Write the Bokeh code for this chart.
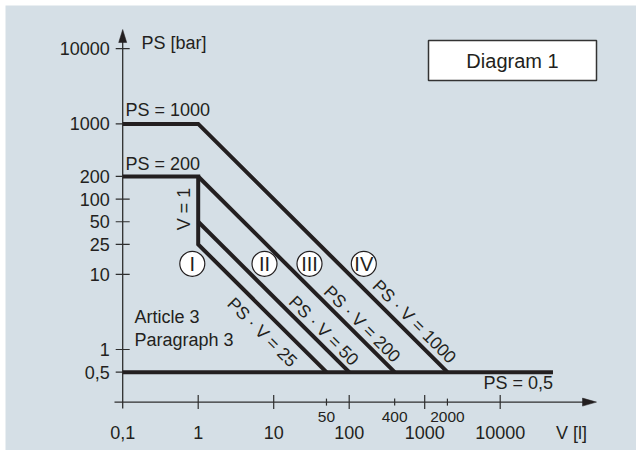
import math
from bokeh.plotting import figure
from bokeh.models import Range1d
from bokeh.core.properties import value
from bokeh.embed import file_html
from bokeh.resources import INLINE

# ---------------- data ----------------
v_label_values = [0.1, 1, 10, 100, 1000, 10000]
v_label_texts = ["0,1", "1", "10", "100", "1000", "10000"]
v_minor_values = [50, 400, 2000]
v_minor_texts = ["50", "400", "2000"]
ps_label_values = [0.5, 1, 10, 25, 50, 100, 200, 1000, 10000]
ps_label_texts = ["0,5", "1", "10", "25", "50", "100", "200", "1000", "10000"]
ps_plateaus = [1000, 200]
pv_products = [25, 50, 200, 1000]
pv_texts = ["PS · V = 25", "PS · V = 50", "PS · V = 200", "PS · V = 1000"]
v_origin = 0.1
v_corner = 1
ps_floor = 0.5
v_floor_end = 50000
categories = ["I", "II", "III", "IV"]

# ---------------- layout (reference pixel frame) ----------------
X0, KX = 197.7, 75.5     # x pixel of V=1, px per decade
Y0, KY = 349.0, 75.2     # y pixel of PS=1, px per decade
M = 5                    # white margin around the panel
W, H = 636, 450
BG = "#d5dfe6"
INK = "#231f20"
AX = "#2e2e2e"
FONT = value("Liberation Sans")


def dx(xr):
    return 10 ** ((xr - X0) / KX)


def dy(yr):
    return 10 ** ((Y0 - yr) / KY)


def px(v):
    return X0 + KX * math.log10(v)


p = figure(width=W, height=H, x_axis_type="log", y_axis_type="log",
           x_range=Range1d(dx(M), dx(W)),
           y_range=Range1d(dy(H), dy(M)),
           output_backend="svg", toolbar_location=None,
           min_border_left=M, min_border_top=M, min_border_right=0, min_border_bottom=0,
           x_axis_location=None, y_axis_location=None)
p.grid.visible = False
p.outline_line_color = None
p.background_fill_color = BG
p.border_fill_color = "white"

# ---------------- axes ----------------
ax_x = px(v_origin)          # y-axis position (pixels)
ax_y = 401.6                 # x-axis position (pixels)
ps_axis = dy(ax_y)
p.segment(x0=[v_origin], y0=[dy(408)], x1=[v_origin], y1=[dy(41)],
          line_color=AX, line_width=1.3)
p.segment(x0=[dx(114)], y0=[ps_axis], x1=[dx(583)], y1=[ps_axis],
          line_color=AX, line_width=1.3)
# arrow heads
p.patch(x=[v_origin, dx(ax_x - 4), dx(ax_x + 4)], y=[dy(29), dy(42), dy(42)],
        fill_color=INK, line_color=INK, line_width=0.5)
p.patch(x=[dx(596), dx(582), dx(582)], y=[ps_axis, dy(ax_y - 4), dy(ax_y + 4)],
        fill_color=INK, line_color=INK, line_width=0.5)

# y ticks
p.segment(x0=[dx(ax_x - 7)] * len(ps_label_values), y0=ps_label_values,
          x1=[dx(ax_x + 7)] * len(ps_label_values), y1=ps_label_values,
          line_color=AX, line_width=1.2)
# x ticks
maj = v_label_values[1:]
p.segment(x0=maj, y0=[dy(ax_y + 7)] * len(maj), x1=maj, y1=[dy(ax_y - 7)] * len(maj),
          line_color=AX, line_width=1.2)
p.segment(x0=v_minor_values, y0=[dy(ax_y + 3.5)] * 3, x1=v_minor_values,
          y1=[dy(ax_y - 3.5)] * 3, line_color=AX, line_width=1.2)

# tick labels
p.text(x=[dx(ax_x - 13)] * len(ps_label_values), y=ps_label_values, text=ps_label_texts,
       text_align="right", text_baseline="middle", text_font=FONT,
       text_font_size="18px", text_color=INK)
p.text(x=v_label_values, y=[dy(432)] * len(v_label_values), text=v_label_texts,
       text_align="center", text_baseline="middle", text_font=FONT,
       text_font_size="18px", text_color=INK)
p.text(x=v_minor_values, y=[dy(416)] * 3, text=v_minor_texts,
       text_align="center", text_baseline="middle", text_font=FONT,
       text_font_size="15.5px", text_color=INK)
p.text(x=[dx(571)], y=[dy(432)], text=["V [l]"], text_align="center",
       text_baseline="middle", text_font=FONT, text_font_size="18px", text_color=INK)
p.text(x=[dx(141)], y=[dy(42)], text=["PS [bar]"], text_align="left",
       text_baseline="middle", text_font=FONT, text_font_size="18px", text_color=INK)

# ---------------- limit lines ----------------
xs, ys = [], []
# PS = 1000 plateau + PS*V = 1000
xs.append([v_origin, v_corner, pv_products[3] / ps_floor])
ys.append([ps_plateaus[0], ps_plateaus[0], ps_floor])
# PS = 200 plateau + V = 1 down to PS*V = 25 line
xs.append([v_origin, v_corner, v_corner, pv_products[0] / ps_floor])
ys.append([ps_plateaus[1], ps_plateaus[1], pv_products[0] / v_corner, ps_floor])
# PS*V = 50 and 200
for prod in (pv_products[1], pv_products[2]):
    xs.append([v_corner, prod / ps_floor])
    ys.append([prod / v_corner, ps_floor])
# PS = 0.5 floor
xs.append([v_origin, v_floor_end])
ys.append([ps_floor, ps_floor])
p.multi_line(xs=xs, ys=ys, line_color=INK, line_width=4, line_join="miter")

# ---------------- labels on lines ----------------
p.text(x=[dx(125)], y=[ps_plateaus[0] * 10 ** (14 / KY)], text=["PS = 1000"],
       text_align="left", text_baseline="middle", text_font=FONT,
       text_font_size="18px", text_color=INK)
p.text(x=[dx(125)], y=[ps_plateaus[1] * 10 ** (12 / KY)], text=["PS = 200"],
       text_align="left", text_baseline="middle", text_font=FONT,
       text_font_size="18px", text_color=INK)
p.text(x=[dx(483)], y=[dy(382)], text=["PS = 0,5"], text_align="left",
       text_baseline="middle", text_font=FONT, text_font_size="18px", text_color=INK)
p.text(x=[dx(183)], y=[dy(208.5)], text=["V = 1"], angle=math.pi / 2,
       text_align="center", text_baseline="middle", text_font=FONT,
       text_font_size="18px", text_color=INK)
p.text(x=[dx(134)] * 2, y=[dy(316), dy(339)], text=["Article 3", "Paragraph 3"],
       text_align="left", text_baseline="middle", text_font=FONT,
       text_font_size="18px", text_color=INK)

diag_pos = [(261.7, 331.7), (323.3, 330.0), (361.7, 323.3), (414.0, 321.0)]
p.text(x=[dx(a) for a, b in diag_pos], y=[dy(b) for a, b in diag_pos], text=pv_texts,
       angle=-math.pi / 4, text_align="center", text_baseline="middle",
       text_font=FONT, text_font_size="17.5px", text_color=INK)

# category circles
cat_px = [191.8, 264.0, 309.0, 363.3]
p.scatter(x=[dx(c) for c in cat_px], y=[dy(263.3)] * 4, size=25, marker="circle",
          fill_color="white", line_color=INK, line_width=1.2)
p.text(x=[dx(c) for c in cat_px], y=[dy(263.8)] * 4, text=categories,
       text_align="center", text_baseline="middle", text_font=FONT,
       text_font_size="20px", text_color=INK)

# Diagram box
p.quad(left=[dx(428)], right=[dx(596)], top=[dy(40)], bottom=[dy(80)],
       fill_color="white", line_color="#333333", line_width=1.5)
p.text(x=[dx(512)], y=[dy(60.5)], text=["Diagram 1"], text_align="center",
       text_baseline="middle", text_font=FONT, text_font_size="20px", text_color=INK)

open("out.html", "w").write(file_html(p, INLINE))
